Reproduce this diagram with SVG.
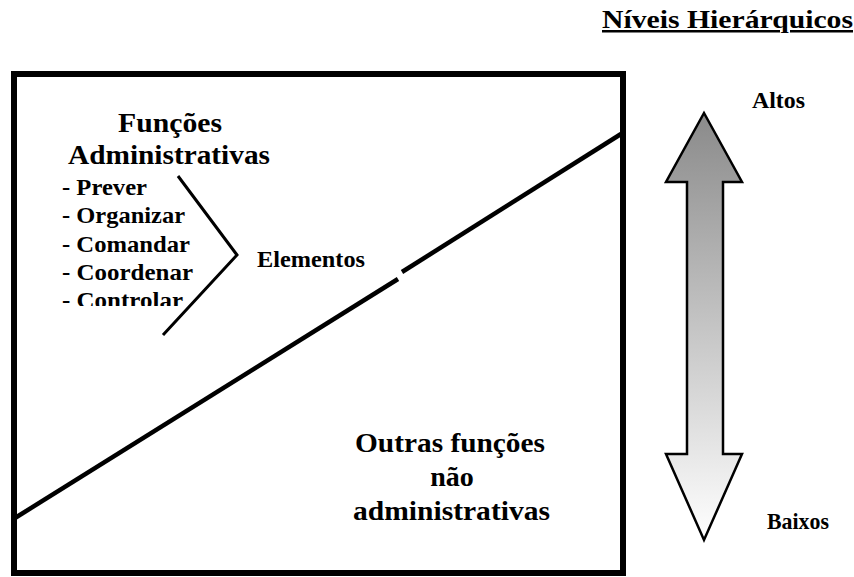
<svg xmlns="http://www.w3.org/2000/svg" width="854" height="577" viewBox="0 0 854 577">
<defs>
<linearGradient id="g" x1="0" y1="0" x2="0" y2="1">
<stop offset="0" stop-color="#8a8a8a"/>
<stop offset="1" stop-color="#ffffff"/>
</linearGradient>
<clipPath id="clipList"><rect x="0" y="0" width="400" height="306"/></clipPath>
</defs>
<style>
text{font-family:"Liberation Serif","Times New Roman",serif;font-weight:bold;fill:#000}
.h{font-size:27px}
.l{font-size:23px}
.o{font-size:28px}
.ln{stroke:#000;fill:none}
</style>
<rect width="854" height="577" fill="#fff"/>
<g id="frame">
<rect x="14" y="74" width="609" height="499" class="ln" stroke-width="6"/>
</g>
<g id="connectors">
<line x1="15" y1="518" x2="398" y2="279" class="ln" stroke-width="4.5"/>
<line x1="402" y1="272" x2="621" y2="134" class="ln" stroke-width="4.5"/>
<polyline points="178,176 237,255 163,335" class="ln" stroke-width="3"/>
</g>
<g id="funcoes">
<text class="h" x="118" y="132" textLength="104" lengthAdjust="spacingAndGlyphs">Funções</text>
<text class="h" x="68" y="164" textLength="202" lengthAdjust="spacingAndGlyphs">Administrativas</text>
<g clip-path="url(#clipList)">
<text class="l" x="62" y="195" textLength="85" lengthAdjust="spacingAndGlyphs">- Prever</text>
<text class="l" x="62" y="223" textLength="123" lengthAdjust="spacingAndGlyphs">- Organizar</text>
<text class="l" x="62" y="252" textLength="128" lengthAdjust="spacingAndGlyphs">- Comandar</text>
<text class="l" x="62" y="280" textLength="131" lengthAdjust="spacingAndGlyphs">- Coordenar</text>
<text class="l" x="62" y="308" textLength="121" lengthAdjust="spacingAndGlyphs">- Controlar</text>
</g>
</g>
<g id="elementos">
<text class="l" x="257" y="267" textLength="108" lengthAdjust="spacingAndGlyphs">Elementos</text>
</g>
<g id="outras">
<text class="o" x="355" y="452" textLength="190" lengthAdjust="spacingAndGlyphs">Outras funções</text>
<text class="o" x="452" y="486" text-anchor="middle">não</text>
<text class="o" x="353" y="520" textLength="197" lengthAdjust="spacingAndGlyphs">administrativas</text>
</g>
<g id="niveis">
<text x="602" y="28" textLength="251" lengthAdjust="spacingAndGlyphs" style="font-size:25px;text-decoration:underline">Níveis Hierárquicos</text>
<text x="752" y="108" textLength="53" lengthAdjust="spacingAndGlyphs" style="font-size:23px">Altos</text>
<text x="767" y="529" textLength="62" lengthAdjust="spacingAndGlyphs" style="font-size:23px">Baixos</text>
</g>
<g id="arrow">
<polygon points="704,113 742,182 723,182 723,454 742,454 704,540 666,454 687,454 687,182 666,182" fill="url(#g)" stroke="#000" stroke-width="2.5" stroke-linejoin="miter"/>
</g>
</svg>
